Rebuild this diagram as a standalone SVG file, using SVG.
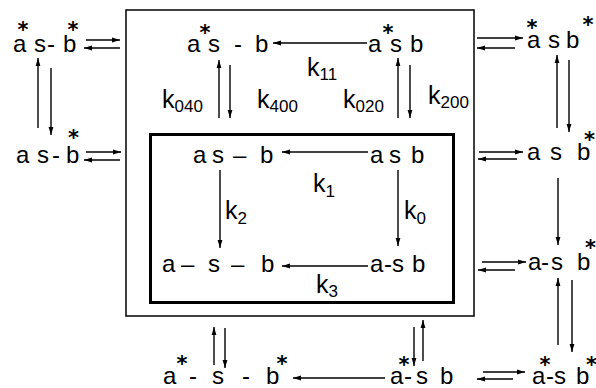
<svg xmlns="http://www.w3.org/2000/svg" width="596" height="388" viewBox="0 0 596 388">
<style>
.t{font-family:"Liberation Sans",Arial,sans-serif;font-size:24px;fill:#000}
.k{font-family:"Liberation Sans",Arial,sans-serif;font-size:25px;fill:#000}
.sub{font-size:17px}
.st{font-family:"DejaVu Sans",sans-serif;font-weight:bold;font-size:21px}
.ln{stroke:#000;stroke-width:1.5;fill:none}
.ar{stroke:#000;stroke-width:1.4;fill:none;marker-end:url(#ah)}
</style>
<defs>
<marker id="ah" markerUnits="userSpaceOnUse" markerWidth="9" markerHeight="6" refX="8" refY="3" orient="auto">
<path d="M0,0.6 L8,3 L0,5.4 z" fill="#000"/>
</marker>
</defs>
<rect width="596" height="388" fill="#fff"/>
<g id="boxes">
<rect id="outer-box" x="126" y="10" width="348" height="306" class="ln"/>
<rect id="inner-box" x="150.5" y="134.5" width="303" height="168" fill="none" stroke="#000" stroke-width="3"/>
</g>
<g id="n-tl"><text class="t"><tspan x="13" y="52">a</tspan><tspan class="st" x="17.5" y="37">*</tspan><tspan x="34" y="52">s</tspan><tspan x="47" y="52">-</tspan><tspan x="63" y="52">b</tspan><tspan class="st" x="67.5" y="37">*</tspan></text></g>
<g id="n-ml"><text class="t"><tspan x="16" y="163">a</tspan><tspan x="37" y="163">s</tspan><tspan x="52" y="163">-</tspan><tspan x="66" y="163">b</tspan><tspan class="st" x="68" y="145">*</tspan></text></g>
<g id="n-tc"><text class="t"><tspan x="187" y="52">a</tspan><tspan class="st" x="199.5" y="40">*</tspan><tspan x="208" y="52">s</tspan><tspan x="234" y="52">-</tspan><tspan x="255" y="52">b</tspan></text></g>
<g id="n-tr-in"><text class="t"><tspan x="368" y="52">a</tspan><tspan class="st" x="382.5" y="40">*</tspan><tspan x="390" y="52">s</tspan><tspan x="410" y="52">b</tspan></text></g>
<g id="n-tr"><text class="t"><tspan x="527" y="48">a</tspan><tspan class="st" x="526.5" y="35">*</tspan><tspan x="548" y="48">s</tspan><tspan x="566" y="48">b</tspan><tspan class="st" x="582.5" y="32">*</tspan></text></g>
<g id="n-in-tl"><text class="t"><tspan x="193" y="163">a</tspan><tspan x="212" y="163">s</tspan><tspan x="233" y="163">–</tspan><tspan x="260" y="163">b</tspan></text></g>
<g id="n-in-tr"><text class="t"><tspan x="370" y="163">a</tspan><tspan x="389" y="163">s</tspan><tspan x="411" y="163">b</tspan></text></g>
<g id="n-in-bl"><text class="t"><tspan x="162" y="272">a</tspan><tspan x="181" y="272">–</tspan><tspan x="208" y="272">s</tspan><tspan x="231" y="272">–</tspan><tspan x="261" y="272">b</tspan></text></g>
<g id="n-in-br"><text class="t"><tspan x="370" y="272">a</tspan><tspan x="384" y="272">-</tspan><tspan x="392" y="272">s</tspan><tspan x="412" y="272">b</tspan></text></g>
<g id="n-r-mid"><text class="t"><tspan x="527" y="160">a</tspan><tspan x="550" y="160">s</tspan><tspan x="577" y="160">b</tspan><tspan class="st" x="584" y="147">*</tspan></text></g>
<g id="n-r-low"><text class="t"><tspan x="528" y="270">a</tspan><tspan x="541" y="270">-</tspan><tspan x="551" y="270">s</tspan><tspan x="577" y="270">b</tspan><tspan class="st" x="585" y="255">*</tspan></text></g>
<g id="n-br"><text class="t"><tspan x="532" y="384">a</tspan><tspan class="st" x="539.5" y="372">*</tspan><tspan x="546" y="384">-</tspan><tspan x="554" y="384">s</tspan><tspan x="576" y="384">b</tspan><tspan class="st" x="586" y="372">*</tspan></text></g>
<g id="n-bm"><text class="t"><tspan x="390" y="384">a</tspan><tspan class="st" x="398.5" y="372">*</tspan><tspan x="404" y="384">-</tspan><tspan x="416" y="384">s</tspan><tspan x="440" y="384">b</tspan></text></g>
<g id="n-bl"><text class="t"><tspan x="163" y="384">a</tspan><tspan class="st" x="176.5" y="371">*</tspan><tspan x="189" y="384">-</tspan><tspan x="212" y="384">s</tspan><tspan x="242" y="384">-</tspan><tspan x="266" y="384">b</tspan><tspan class="st" x="276.5" y="371">*</tspan></text></g>
<g id="labels">
<text class="k" x="162" y="108">k<tspan class="sub" dy="4">040</tspan></text>
<text class="k" x="257" y="108">k<tspan class="sub" dy="4">400</tspan></text>
<text class="k" x="343" y="108">k<tspan class="sub" dy="4">020</tspan></text>
<text class="k" x="428" y="104">k<tspan class="sub" dy="4">200</tspan></text>
<text class="k" x="307" y="76">k<tspan class="sub" dy="4">11</tspan></text>
<text class="k" x="313" y="192">k<tspan class="sub" dy="5">1</tspan></text>
<text class="k" x="225" y="219">k<tspan class="sub" dy="5">2</tspan></text>
<text class="k" x="404" y="219">k<tspan class="sub" dy="5">0</tspan></text>
<text class="k" x="316" y="293">k<tspan class="sub" dy="4">3</tspan></text>
</g>
<g id="connectors">
<line class="ar" x1="86" y1="40" x2="120" y2="40"/>
<line class="ar" x1="120" y1="48" x2="84" y2="48"/>
<line class="ar" x1="86" y1="152" x2="121" y2="152"/>
<line class="ar" x1="120" y1="160" x2="84" y2="160"/>
<line class="ar" x1="477" y1="38" x2="523" y2="38"/>
<line class="ar" x1="515" y1="48" x2="477" y2="48"/>
<line class="ar" x1="479" y1="152" x2="523" y2="152"/>
<line class="ar" x1="517" y1="159" x2="478" y2="159"/>
<line class="ar" x1="482" y1="262" x2="526" y2="262"/>
<line class="ar" x1="515" y1="270" x2="478" y2="270"/>
<line class="ar" x1="483" y1="372" x2="525" y2="372"/>
<line class="ar" x1="513" y1="379" x2="477" y2="379"/>
<line class="ar" x1="38" y1="128" x2="38" y2="58"/>
<line class="ar" x1="51" y1="68" x2="51" y2="135"/>
<line class="ar" x1="219" y1="118" x2="219" y2="60"/>
<line class="ar" x1="230" y1="65" x2="230" y2="118"/>
<line class="ar" x1="398" y1="118" x2="398" y2="58"/>
<line class="ar" x1="410" y1="65" x2="410" y2="118"/>
<line class="ar" x1="557" y1="128" x2="557" y2="55"/>
<line class="ar" x1="569" y1="60" x2="569" y2="132"/>
<line class="ar" x1="558" y1="178" x2="558" y2="245"/>
<line class="ar" x1="558" y1="345" x2="558" y2="278"/>
<line class="ar" x1="572" y1="280" x2="572" y2="352"/>
<line class="ar" x1="414" y1="327" x2="414" y2="366"/>
<line class="ar" x1="423" y1="361" x2="423" y2="320"/>
<line class="ar" x1="214" y1="365" x2="214" y2="327"/>
<line class="ar" x1="225" y1="328" x2="225" y2="368"/>
<line class="ar" x1="367" y1="43" x2="273" y2="43"/>
<line class="ar" x1="368" y1="152" x2="282" y2="152"/>
<line class="ar" x1="368" y1="266" x2="282" y2="266"/>
<line class="ar" x1="385" y1="378" x2="293" y2="378"/>
<line class="ar" x1="220" y1="170" x2="220" y2="248"/>
<line class="ar" x1="398" y1="170" x2="398" y2="246"/>
</g>
</svg>
